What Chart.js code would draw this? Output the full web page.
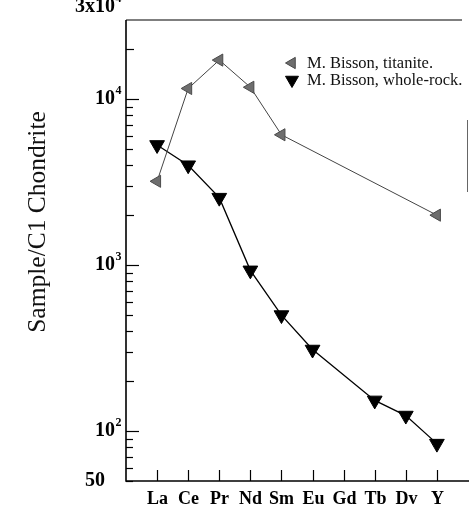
<!DOCTYPE html>
<html>
<head>
<meta charset="utf-8">
<script src="https://cdn.jsdelivr.net/npm/chart.js@4/dist/chart.umd.min.js"></script>
<style>
  html, body { margin: 0; padding: 0; background: #fff; }
  #wrap { width: 469px; height: 516px; }
</style>
</head>
<body>
<div id="wrap"><canvas id="ree" width="469" height="516"></canvas></div>
<script>
// REE spider diagram, chondrite normalised
const elements = ['La', 'Ce', 'Pr', 'Nd', 'Sm', 'Eu', 'Gd', 'Tb', 'Dv', 'Y'];
const titanite = [3200, 11600, 17200, 11800, 6100, null, null, null, null, 2000];
const wholeRock = [5300, 4000, 2550, 930, 500, 310, null, 153, 124, 84];

// labelled y ticks (base, exponent)
const yLabelValues = [50, 100, 1000, 10000, 30000];
const yLabelText = [['50', ''], ['10', '2'], ['10', '3'], ['10', '4'], ['3x10', '4']];
// every tick mark on the log axis
const yTickValues = [50, 60, 70, 80, 90, 100, 200, 300, 400, 500, 600, 700, 800, 900,
  1000, 2000, 3000, 4000, 5000, 6000, 7000, 8000, 9000, 10000, 20000];

const seriesNames = ['M. Bisson, titanite.', 'M. Bisson, whole-rock.'];

function toPoints(values) {
  const pts = [];
  values.forEach((v, i) => { if (v !== null) pts.push({ x: i, y: v }); });
  return pts;
}

const serif = '"Liberation Serif", "Times New Roman", serif';

function triangle(ctx, x, y, r, dir) {
  // dir: 'down' or 'left'
  ctx.beginPath();
  if (dir === 'down') {
    ctx.moveTo(x - r * 0.866, y - r * 0.5);
    ctx.lineTo(x + r * 0.866, y - r * 0.5);
    ctx.lineTo(x, y + r);
  } else {
    ctx.moveTo(x + r * 0.5, y - r * 0.866);
    ctx.lineTo(x + r * 0.5, y + r * 0.866);
    ctx.lineTo(x - r, y);
  }
  ctx.closePath();
}

const framePlugin = {
  id: 'frame',
  afterDatasetsDraw(chart) {
    const { ctx, chartArea: a, scales } = chart;
    const xs = scales.x, ys = scales.y;
    ctx.save();
    ctx.strokeStyle = '#000';
    ctx.fillStyle = '#000';

    // axes
    ctx.lineWidth = 1.6;
    ctx.beginPath();
    ctx.moveTo(a.left, a.top);
    ctx.lineTo(a.left, a.bottom);
    ctx.lineTo(469, a.bottom);
    ctx.stroke();
    // top border
    ctx.lineWidth = 1.2;
    ctx.beginPath();
    ctx.moveTo(a.left, a.top);
    ctx.lineTo(462, a.top);
    ctx.stroke();
    // right border fragment
    ctx.strokeStyle = '#666';
    ctx.lineWidth = 1;
    ctx.beginPath();
    ctx.moveTo(467.5, 120);
    ctx.lineTo(467.5, 192);
    ctx.stroke();
    ctx.strokeStyle = '#000';

    // inward y ticks
    ctx.lineWidth = 1.2;
    yTickValues.forEach(v => {
      const y = Math.round(ys.getPixelForValue(v)) + 0.5;
      const major = Math.log10(v) % 1 === 0;
      const len = major ? 13 : (String(v)[0] === '2' ? 8 : 7);
      ctx.beginPath();
      ctx.moveTo(a.left, y);
      ctx.lineTo(a.left + len, y);
      ctx.stroke();
    });

    // y labels with superscripts
    ctx.textBaseline = 'middle';
    yLabelValues.forEach((v, i) => {
      const [base, exp] = yLabelText[i];
      let y = ys.getPixelForValue(v);
      if (v === 30000) y = 7;
      ctx.font = 'bold 20px ' + serif;
      const bw = ctx.measureText(base).width;
      ctx.font = 'bold 12px ' + serif;
      const ew = exp ? ctx.measureText(exp).width : 0;
      const right = exp ? 121 : 105;
      const x0 = right - ew - bw;
      ctx.font = 'bold 20px ' + serif;
      ctx.textAlign = 'left';
      ctx.fillText(base, x0, y);
      if (exp) {
        ctx.font = 'bold 12px ' + serif;
        ctx.fillText(exp, x0 + bw + 0.5, y - 8);
      }
    });

    // inward x ticks and element labels
    ctx.lineWidth = 1.2;
    ctx.font = 'bold 18px ' + serif;
    ctx.textAlign = 'center';
    elements.forEach((el, i) => {
      const x = Math.round(xs.getPixelForValue(i)) + 0.5;
      ctx.beginPath();
      ctx.moveTo(x, a.bottom);
      ctx.lineTo(x, a.bottom - 11);
      ctx.stroke();
      ctx.fillText(el, x, a.bottom + 18);
    });

    // y axis title
    ctx.save();
    ctx.translate(38, 222);
    ctx.rotate(-Math.PI / 2);
    ctx.font = '25.5px ' + serif;
    ctx.fillStyle = '#111';
    ctx.textAlign = 'center';
    ctx.textBaseline = 'middle';
    ctx.fillText('Sample/C1 Chondrite', 0, 0);
    ctx.restore();

    // legend
    const ds = chart.data.datasets;
    const rows = [63, 80];
    ctx.font = '16.5px ' + serif;
    ctx.textAlign = 'left';
    ctx.textBaseline = 'middle';
    rows.forEach((ly, i) => {
      ctx.fillStyle = ds[i].pointBackgroundColor;
      ctx.strokeStyle = ds[i].pointBorderColor;
      ctx.lineWidth = 1;
      triangle(ctx, 292, ly, i === 0 ? 6.5 : 7.5, i === 0 ? 'left' : 'down');
      ctx.fill();
      ctx.stroke();
      ctx.fillStyle = '#111';
      ctx.fillText(seriesNames[i], 307, ly + 1);
    });
    ctx.restore();
  }
};

new Chart(document.getElementById('ree'), {
  type: 'line',
  data: {
    datasets: [
      {
        label: seriesNames[0],
        data: toPoints(titanite),
        borderColor: '#444',
        borderWidth: 1,
        pointStyle: 'triangle',
        rotation: 270,
        pointRadius: 7,
        pointBackgroundColor: '#6e6e6e',
        pointBorderColor: '#4a4a4a',
        pointBorderWidth: 1
      },
      {
        label: seriesNames[1],
        data: toPoints(wholeRock),
        borderColor: '#000',
        borderWidth: 1.3,
        pointStyle: 'triangle',
        rotation: 180,
        pointRadius: 8.5,
        pointBackgroundColor: '#000',
        pointBorderColor: '#000',
        pointBorderWidth: 1
      }
    ]
  },
  options: {
    responsive: false,
    animation: false,
    layout: { autoPadding: false, padding: { left: 126, right: 1, top: 20, bottom: 35 } },
    scales: {
      x: { type: 'linear', min: -1, max: 10, display: false },
      y: { type: 'logarithmic', min: 50, max: 30000, display: false }
    },
    plugins: {
      legend: { display: false },
      tooltip: { enabled: false }
    },
    clip: false
  },
  plugins: [framePlugin]
});
</script>
</body>
</html>
